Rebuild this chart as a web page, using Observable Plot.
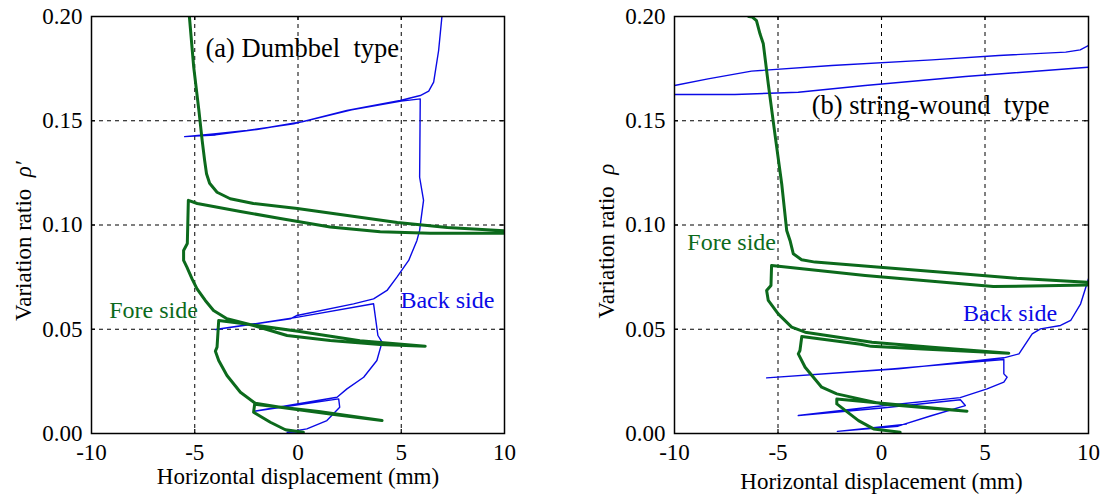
<!DOCTYPE html>
<html>
<head>
<meta charset="utf-8">
<script src="https://cdn.jsdelivr.net/npm/d3@7"></script>
<script src="https://cdn.jsdelivr.net/npm/@observablehq/plot@0.6"></script>
<style>
  html, body { margin: 0; padding: 0; background: #fff; }
  #wrap { display: flex; flex-direction: row; width: 1106px; height: 504px; }
  #wrap svg, #wrap svg text, #wrap svg tspan { font-family: "Liberation Serif", "Times New Roman", serif !important; }
</style>
</head>
<body>
<div id="wrap"></div>
<script>
// ---------- data ----------
const xTicks = [-10, -5, 0, 5, 10];
const yTicks = [0, 0.05, 0.1, 0.15, 0.2];
const gridXs = [-5, 0, 5];
const gridYs = [0.05, 0.1, 0.15];

// (a) Dumbbel type — Fore side (green)
const leftFore = [
  [-5.26,0.2],[-5.05,0.1757],[-4.80,0.155],[-4.64,0.1405],[-4.52,0.1309],[-4.43,0.1246],[-4.28,0.12],
  [-3.92,0.1157],[-3.28,0.1126],[-2.16,0.1103],[-0.03,0.1079],[2.39,0.1046],[4.81,0.1012],[7.23,0.0988],[10,0.0972],
  [10,0.0960],[6.40,0.0960],[3.98,0.0968],[1.56,0.0990],[-0.86,0.1031],[-2.79,0.1065],[-4.88,0.1103],[-5.31,0.1118],
  [-5.36,0.0911],[-5.54,0.0878],[-5.54,0.083],[-5.38,0.0798],[-5.13,0.0742],[-4.89,0.0694],[-4.49,0.0638],[-4.09,0.059],
  [-3.44,0.055],[-2.15,0.0518],[-0.53,0.047],[1.56,0.0446],[3.98,0.0427],[6.16,0.0419],
  [3.0,0.0445],[0,0.049],[-2.5,0.0525],[-3.84,0.0542],
  [-3.92,0.0414],[-4.0,0.0395],[-3.84,0.035],[-3.44,0.0278],[-2.79,0.0198],[-2.07,0.0145],
  [-0.86,0.0126],[1.56,0.0094],[4.07,0.0062],
  [1.0,0.0105],[-2.1,0.014],[-2.15,0.0102],[-1.34,0.0054],[-0.61,0.0018],[0.26,0.0006]
];
// (a) Dumbbel type — Back side (blue)
const leftBack = [
  [6.97,0.2],[6.81,0.1837],[6.57,0.1685],[6.33,0.1642],[5.92,0.1621],[4.95,0.1597],[2.37,0.1549],[-0.21,0.1485],
  [-2.47,0.1453],[-4.09,0.1437],[-5.49,0.1424],
  [-4.0,0.1432],[-2.0,0.1458],[0.2,0.1495],[2.6,0.1552],[5.0,0.1594],[5.92,0.1605],
  [5.89,0.1229],[6.08,0.1118],[5.95,0.1022],[5.89,0.0974],[5.76,0.0926],[5.36,0.083],[4.79,0.075],[4.31,0.0686],
  [3.66,0.0646],[2.69,0.0622],[-0.05,0.0566],[-0.37,0.055],[-4.0,0.0499],
  [-1.5,0.0535],[0.0,0.0558],[3.66,0.0622],
  [3.87,0.047],[4.07,0.0438],[3.82,0.035],[3.18,0.027],[2.37,0.0214],[1.89,0.0174],[-2.12,0.0107],
  [1.97,0.0166],[2.02,0.0126],[1.4,0.0062],[0.43,0.0022],[-0.53,0.0006],[0.2,0.0008]
];

// (b) string-wound type — Fore side (green)
const rightFore = [
  [-6.41,0.2],[-6.25,0.1998],[-6.04,0.198],[-5.87,0.1917],[-5.71,0.1869],[-5.47,0.1677],[-5.15,0.1437],[-4.82,0.1197],
  [-4.58,0.0974],[-4.42,0.0926],[-4.26,0.0862],[-3.86,0.0833],[-3.21,0.0822],[0.82,0.079],[3.85,0.0766],[6.5,0.0745],[9.95,0.0726],
  [10,0.0712],[5.4,0.0705],[3.85,0.0718],[-0.79,0.0758],[-5.31,0.0806],
  [-5.34,0.071],[-5.55,0.0686],[-5.47,0.0638],[-4.99,0.0574],[-4.34,0.051],[-3.69,0.0486],[-0.46,0.0438],[2.44,0.0414],[6.15,0.0385],
  [2.0,0.0405],[-0.5,0.0418],[-1.0,0.0428],[-3.85,0.0465],
  [-3.94,0.0398],[-4.02,0.0382],[-3.69,0.0318],[-2.89,0.0222],[-2.16,0.019],[0.02,0.0142],[4.13,0.0107],
  [-2.16,0.0165],[-2.16,0.0142],[-1.11,0.0062],[-0.38,0.0022],[0.9,0.0006]
];
// (b) string-wound type — Back side (blue), three visible pieces
const rightBackTop1 = [
  [-10,0.1669],[-8.38,0.1701],[-6.28,0.1738],[-2.4,0.1765],[2.44,0.1792],[5.67,0.1813],[8.9,0.1829],[9.6,0.1840],[10,0.1861]
];
const rightBackTop2 = [
  [-10,0.1626],[-7.08,0.1626],[-4.02,0.1637],[-0.79,0.1669],[4.06,0.1712],[10,0.1757]
];
const rightBackLow = [
  [10,0.0742],[9.62,0.0622],[9.14,0.0542],[8.65,0.0518],[7.68,0.0502],[7.28,0.0478],[6.64,0.0382],[5.91,0.0363],
  [0.82,0.031],[-5.55,0.0267],[0.5,0.031],[5.91,0.0355],
  [5.91,0.0286],[6.07,0.027],[5.91,0.0246],[5.1,0.0214],[3.8,0.0172],[-0.38,0.0128],[-4.02,0.0086],
  [0.02,0.0122],[3.81,0.0162],[4.05,0.0134],[2.4,0.0085],[0.8,0.0035],[-2.13,0.001],[1.2,0.0045]
];

const leftTexts = ["(a) Dumbbel\u00a0 type", "Fore side", "Back side"];
const leftTextPos = [[-4.48, 0.1847], [-9.14, 0.059], [4.96, 0.0638]];
const rightTexts = ["(b) string-wound\u00a0 type", "Fore side", "Back side"];
const rightTextPos = [[-3.37, 0.1573], [-9.38, 0.0916], [3.94, 0.0576]];

const xLabel = "Horizontal displacement (mm)";
const yLabelLeft = "Variation ratio \u00a0\u03c1\u2032";
const yLabelRight = "Variation ratio \u00a0\u03c1";

// ---------- styles ----------
const GREEN = "#0c6a1c";
const BLUE = "#0a0ae6";
const FONT = "Liberation Serif, Times New Roman, serif";

function toRows(segments) {
  return segments.flatMap((s, i) => s.map(([x, y]) => ({x, y, seg: i})));
}

function panel({fore, back, texts, textPos, yLabel, marginLeft, marginRight, xLabelDy}) {
  const textRows = texts.map((t, i) => ({t, x: textPos[i][0], y: textPos[i][1], kind: i}));
  const inner = xTicks.slice(1, -1);
  const innerY = yTicks.slice(1, -1);
  const tickLenY = 0.2 * 4 / 417;  // ~4px inward tick
  const tickLenX = 20 * 4 / 413;
  const svg = Plot.plot({
    width: 553,
    height: 504,
    marginLeft, marginRight,
    marginTop: 16,
    marginBottom: 71,
    style: {fontFamily: FONT, fontSize: "23px", background: "white", color: "black", overflow: "visible"},
    x: {domain: [-10, 10], ticks: xTicks, tickFormat: d => String(d), tickSize: 0, tickPadding: 10, label: null},
    y: {domain: [0, 0.2], ticks: yTicks, tickFormat: d3.format(".2f"), tickSize: 0, tickPadding: 9, label: null},
    marks: [
      Plot.gridX(gridXs, {stroke: "black", strokeOpacity: 1, strokeWidth: 1, strokeDasharray: "4,4"}),
      Plot.gridY(gridYs, {stroke: "black", strokeOpacity: 1, strokeWidth: 1, strokeDasharray: "4,4"}),
      Plot.ruleX(inner, {y1: 0, y2: tickLenY, stroke: "black", strokeWidth: 1.2}),
      Plot.ruleX(inner, {y1: 0.2, y2: 0.2 - tickLenY, stroke: "black", strokeWidth: 1.2}),
      Plot.ruleY(innerY, {x1: -10, x2: -10 + tickLenX, stroke: "black", strokeWidth: 1.2}),
      Plot.ruleY(innerY, {x1: 10, x2: 10 - tickLenX, stroke: "black", strokeWidth: 1.2}),
      Plot.line(toRows(back), {x: "x", y: "y", z: "seg", stroke: BLUE, strokeWidth: 1.4, clip: true}),
      Plot.line(toRows(fore), {x: "x", y: "y", z: "seg", stroke: GREEN, strokeWidth: 3, clip: true}),
      Plot.frame({stroke: "black", strokeWidth: 1.5}),
      Plot.text(textRows.filter(d => d.kind === 0), {x: "x", y: "y", text: "t", textAnchor: "start", fontSize: 26.5, fontFamily: FONT, fill: "black"}),
      Plot.text(textRows.filter(d => d.kind === 1), {x: "x", y: "y", text: "t", textAnchor: "start", fontSize: 24, fontFamily: FONT, fill: GREEN}),
      Plot.text(textRows.filter(d => d.kind === 2), {x: "x", y: "y", text: "t", textAnchor: "start", fontSize: 24, fontFamily: FONT, fill: BLUE}),
      Plot.text([xLabel], {frameAnchor: "bottom", textAnchor: "middle", dy: xLabelDy, fontSize: 23, fontFamily: FONT, fill: "black"}),
      Plot.text([yLabel], {frameAnchor: "left", textAnchor: "middle", rotate: -90, dx: -68, dy: 16, fontSize: 23, fontFamily: FONT, fill: "black"})
    ]
  });
  // italic rho in the y label
  svg.querySelectorAll("text").forEach(el => {
    const t = el.textContent;
    const i = t.indexOf("\u03c1");
    if (i >= 0 && el.children.length === 0) {
      el.textContent = "";
      const ns = "http://www.w3.org/2000/svg";
      const a = document.createElementNS(ns, "tspan");
      a.textContent = t.slice(0, i);
      const b = document.createElementNS(ns, "tspan");
      b.textContent = t.slice(i);
      b.setAttribute("font-style", "italic");
      el.appendChild(a); el.appendChild(b);
    }
  });
  return svg;
}

const wrap = document.getElementById("wrap");
wrap.appendChild(panel({
  fore: [leftFore], back: [leftBack],
  texts: leftTexts, textPos: leftTextPos, yLabel: yLabelLeft,
  marginLeft: 91, marginRight: 49, xLabelDy: 50
}));
wrap.appendChild(panel({
  fore: [rightFore], back: [rightBackTop1, rightBackTop2, rightBackLow],
  texts: rightTexts, textPos: rightTextPos, yLabel: yLabelRight,
  marginLeft: 121, marginRight: 18, xLabelDy: 55
}));
</script>
</body>
</html>
